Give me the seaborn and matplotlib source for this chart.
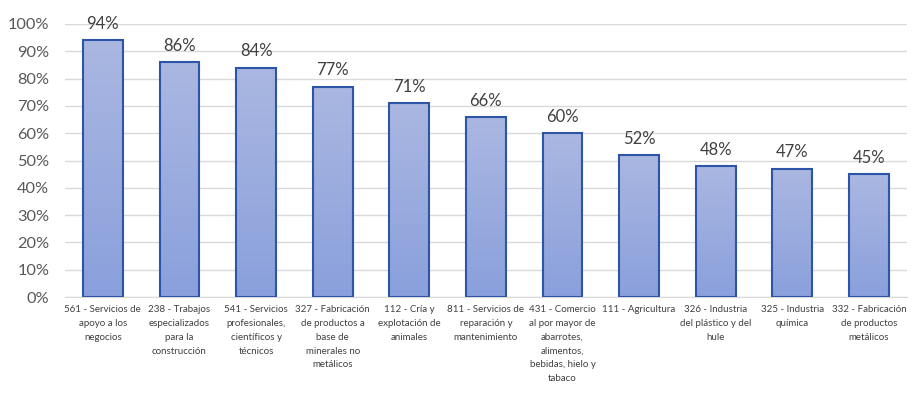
import matplotlib
matplotlib.use("Agg")
import matplotlib.pyplot as plt
import numpy as np
import pandas as pd
import seaborn as sns
from matplotlib.colors import LinearSegmentedColormap

# ▶️ datos
sectores = [
    "561 - Servicios de\napoyo a los\nnegocios",
    "238 - Trabajos\nespecializados\npara la\nconstrucción",
    "541 - Servicios\nprofesionales,\ncientíficos y\ntécnicos",
    "327 - Fabricación\nde productos a\nbase de\nminerales no\nmetálicos",
    "112 - Cría y\nexplotación de\nanimales",
    "811 - Servicios de\nreparación y\nmantenimiento",
    "431 - Comercio\nal por mayor de\nabarrotes,\nalimentos,\nbebidas, hielo y\ntabaco",
    "111 - Agricultura",
    "326 - Industria\ndel plástico y del\nhule",
    "325 - Industria\nquímica",
    "332 - Fabricación\nde productos\nmetálicos",
]
porcentajes = [0.94, 0.86, 0.84, 0.77, 0.71, 0.66, 0.60, 0.52, 0.48, 0.47, 0.45]
y_ticks = [0.0, 0.1, 0.2, 0.3, 0.4, 0.5, 0.6, 0.7, 0.8, 0.9, 1.0]

df = pd.DataFrame({"sector": sectores, "pct": porcentajes})

sns.set_style("white")
plt.rcParams["font.family"] = ["Lato", "DejaVu Sans"]

fig = plt.figure(figsize=(9.22, 3.93), dpi=100)
ax = fig.add_axes([0.070, 0.244, 0.914, 0.695])

sns.barplot(data=df, x="sector", y="pct", color="#99abde", width=0.52,
            edgecolor="#2c55a8", linewidth=1.5, ax=ax, zorder=3)

# ▶️ degradado en cada barra
cmap = LinearSegmentedColormap.from_list("grad", ["#8aa0dc", "#aab7e1"])
grad = np.linspace(0, 1, 256).reshape(-1, 1)
for p in ax.patches:
    x0, y0 = p.get_x(), p.get_y()
    w, h = p.get_width(), p.get_height()
    im = ax.imshow(grad, cmap=cmap, origin="lower", aspect="auto",
                   extent=[x0, x0 + w, y0, y0 + h], zorder=3.5)
    im.set_clip_path(p)
    p.set_facecolor("none")
    p.set_zorder(4)

for i, v in enumerate(porcentajes):
    ax.annotate(f"{v:.0%}", (i, v), xytext=(0, 6), textcoords="offset points",
                ha="center", va="bottom", fontsize=12, color="#404040")

ax.set_xlim(-0.5, len(sectores) - 0.5)
ax.set_ylim(0, 1.0)
ax.set_yticks(y_ticks)
ax.set_yticklabels([f"{t:.0%}" for t in y_ticks], fontsize=11.8, color="#595959")
ax.tick_params(axis="y", length=0, pad=11)
ax.tick_params(axis="x", length=0, pad=6)
ax.set_xticks(range(len(sectores)))
ax.set_xticklabels(sectores, fontsize=7, color="#404040", linespacing=1.68, va="top")
ax.set_xlabel("")
ax.set_ylabel("")
ax.grid(axis="y", color="#d9d9d9", linewidth=1, zorder=0)
ax.set_axisbelow(True)
for s in ["top", "right", "left"]:
    ax.spines[s].set_visible(False)
ax.spines["bottom"].set_color("#d9d9d9")
ax.spines["bottom"].set_zorder(2)

fig.savefig("out.png", dpi=100)
